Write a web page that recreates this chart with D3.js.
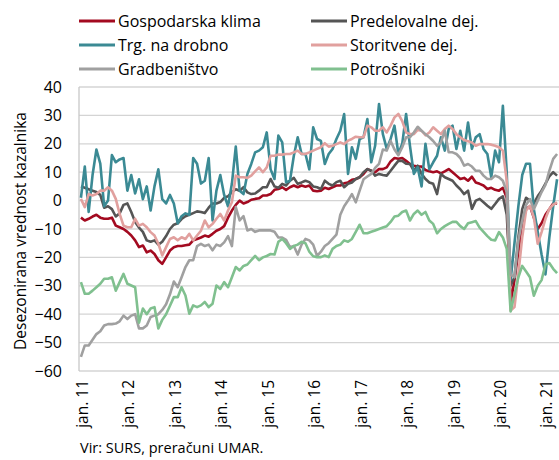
<!DOCTYPE html>
<html>
<head>
<meta charset="utf-8">
<script src="https://cdn.jsdelivr.net/npm/d3@7"></script>
<style>
  body { margin: 0; background: #fff; }
  svg text { font-family: "Open Sans", "Noto Sans", sans-serif; fill: #000; }
</style>
</head>
<body>
<div id="chart"></div>
<script>
// monthly data, jan 2011 .. apr 2021
var startYear = 2011;
var nMonths = 124;
var tickLabels = ["jan. 11", "jan. 12", "jan. 13", "jan. 14", "jan. 15", "jan. 16", "jan. 17", "jan. 18", "jan. 19", "jan. 20", "jan. 21"];
var yTicks = [40, 30, 20, 10, 0, -10, -20, -30, -40, -50, -60];

var gospodarska = [-6, -7, -6.4, -5.6, -5, -6, -6.4, -6.4, -6, -8.8, -9.4, -10, -11, -12.3, -14, -16.4, -15.8, -18.2, -17.6, -18.8, -21, -22.3, -20, -17.6, -16.4, -16, -16, -15.7, -15.5, -14, -13.5, -13, -12.3, -12.7, -11.7, -10.6, -10, -9, -6, -3.5, -1.5,
  0, -1, -0.5, 0.3, 0.6, 0.8, 1.8, 1.8, 2.3, 3.8, 4.1, 4.7, 3.8, 4.7, 5.3, 4.7, 5.3, 4.9, 5.3, 3.5, 3.3, 3.5, 4.5, 4.1, 4.7, 5.3, 5.3, 6.1, 6.4, 7.3, 7.6, 8.2, 9.4, 11.1, 10.5, 10, 11.1, 11.1, 11.7, 13.8, 15, 14.7,
  15, 14, 12.9, 12.3, 12, 12, 10.8, 10.3, 10, 10.3, 9.6, 10.3, 11.1, 10, 8.8, 7.6, 8, 7, 8.4, 6.4, 5.9, 5.3, 4.1, 4.5, 3.8, 3.5, 4.5, 1, -36, -28, -18, -8, -3, -2, -6, -10, -8, -5, -3, -1, -1];

var predelovalne = [5, 4.5, 4, 3.5, 3, 2, -2.5, -2, -3, -5.6, -4.5, -1.5, -1, -4, -7.5, -9.5, -11, -14, -14.5, -14, -15.5, -14.5, -12.5, -10, -8.5, -8, -6.5, -5.5, -5, -4.4, -3.8, -4, -4.4, -2.5, -1, -1, -0.5, 1, 1.5, 3, 4,
  3.5, 4.7, 2.9, 2.3, 2.5, 3.5, 4.7, 4.7, 7.6, 5, 4.5, 5.9, 5.3, 7, 8, 5.9, 6.4, 7, 6.5, 5, 4.7, 4.1, 7, 5.9, 5.3, 6.5, 7, 4.7, 5.9, 6.4, 7.6, 8.2, 10, 11.1, 10.5, 8.8, 9.4, 9, 8.8, 10.5, 12.3, 14,
  14, 13, 12.9, 10.5, 12.3, 9.4, 7.6, 6.4, 5.9, 2.3, 9.4, 8.2, 7.6, 7, 5.3, 4, 2.3, 3.5, -2.9, 0, 0.6, -0.6, -1.8, -2.9, -1.2, 0.6, 1.5, -5, -30, -27, -13, -3, 1, 0, -1, 1.5, 3.5, 6, 8.5, 10, 8.8];

var drobno = [1, 12, -4, 9, 18, 13, -2, 0, 16, 13.5, 14.5, 15, 3.5, 9, 2.5, 7.5, 0.5, 5, -3.5, 5, 11, 0.5, -1, 2, -1, -8, -5.5, -4.5, -5, 15, 13, 6, 7, 15, -7, 3.5, 9, 2, -2, 6, 19,
  3.5, 2.3, 9.4, 12.9, 17, 17.6, 18.8, 24, 11, 7.6, 22.9, 20.5, 6.4, 7, 15.8, 22.3, 16.4, 16.4, 11, 25.8, 21.7, 21, 12.9, 16.4, 18.2, 21.7, 24.6, 30.5, 9.4, 18.8, 14.7, 21.7, 22.3, 28.7, 13.5, 19.3, 34, 23.4, 18.2, 21.7, 26.4, 16.4,
  20, 30.5, 19.3, 9.4, 11.7, 5, 20, 11, 13.5, 15.8, 22.3, 17.6, 25.2, 26.4, 18.2, 24.6, 17.6, 27.5, 18.2, 22.3, 23.4, 18.2, 16.4, 8.2, 17.6, 13.5, 33.4, 10, -28, -15, -2, 9, 13, 13, -3, -11, -19, -26, -13, -2, 7.5];

var storitvene = [0.6, -2.3, 2.3, 1.8, 2.3, 3.5, 3.5, 4.7, 3.5, 0.6, -4.7, -8.8, -9.4, -9.4, -6.4, -8.8, -8.2, -9.4, -11.1, -12.3, -15.2, -19.3, -16.4, -13.5, -12.9, -14, -12.9, -13.5, -11.7, -14, -12.3, -10.6, -7, -9.4, -8.2, -6.4, -4.7, -7, -3.5, -0.6, 8.8,
  8.2, 8.2, 8, 8.8, 10.3, 11.7, 10, 11.7, 15.8, 15.8, 16.2, 16.2, 16.4, 16.4, 17, 17.6, 16.4, 16.4, 17, 17.6, 18.2, 18.8, 20.2, 19, 19.3, 19.9, 20.5, 19.9, 21.1, 21.7, 22.5, 22.3, 22.3, 26.4, 25.8, 24.6, 24.6, 25.8, 24, 26.4, 29.3, 30.5,
  28, 24, 23.4, 23.4, 24.9, 24.6, 23, 24, 25.8, 24.6, 23.4, 25.2, 26.4, 25.2, 23.4, 22.3, 21.3, 20.9, 20.5, 19.3, 19.9, 19.9, 19.9, 19.7, 19.3, 18.8, 17.6, 7, -38.7, -37.5, -25.8, -12.9, -3.5, -1.8, -5.9, -15.2, -11.1, -6.4, -2.9, -1.4, -0.6];

var gradbenistvo = [-55, -51, -51, -49, -47, -46, -44, -43.5, -43.5, -43.3, -42.5, -40.5, -41.7, -40.5, -40, -45, -45, -44, -41, -40.5, -40, -38.5, -36.5, -33, -28.5, -30.5, -27, -23.4, -21, -21, -16, -15.2, -16, -15.5, -17.5, -15.5, -16, -14.7, -12.5, -16, -2.3,
  -7, -5.5, -10.5, -10, -11, -10.5, -10.5, -10.5, -10.5, -11, -13, -13, -13.8, -16.4, -16, -19, -15.5, -13.5, -14, -15.5, -19.5, -18, -16, -15, -13.5, -12, -5, -2, 0, 2.3, -0.6, 3.5, 7.5, 8.5, 9.4, 11.5, 12.9, 18, 17.6, 21, 18, 16,
  18.8, 22.3, 22.3, 24, 26, 24.6, 23.4, 22.3, 21, 19.3, 20.5, 24.6, 17, 17, 16.4, 15, 12.3, 12.9, 12, 10.5, 10.5, 8.8, 7.6, 7.6, 8.8, 8.2, 7, 3, -26, -27, -14, -7, -1.5, 0.5, -3, 0, 3, 5.5, 10.5, 14.7, 16.4];

var potrosniki = [-28.7, -32.8, -32.8, -31.7, -30.5, -29.3, -27.5, -27.5, -27, -31.7, -28.7, -25.8, -29.3, -29.9, -30.5, -43, -38, -40, -38, -37.5, -45, -42, -40, -37, -34, -34, -30.5, -33.4, -39.8, -36.9, -37.5, -36.9, -35.7, -37.5, -36.3, -29.9, -31.1, -28.7, -30.5, -27, -23.4,
  -24.6, -23, -22.5, -21, -19.5, -21, -20, -19.5, -18.8, -19, -14.5, -13.5, -15, -17, -16, -15.5, -14.5, -15, -18, -19.6, -19.9, -19.9, -19.3, -19.9, -17, -16, -15.5, -14, -14.5, -13.5, -11, -8.5, -11.5, -11.5, -11, -10.5, -10, -9.5, -9, -7.5, -5.6, -5.3,
  -4, -3.5, -7, -4.7, -3.5, -5, -4, -7, -8.2, -11.5, -10, -9, -8.2, -7.5, -7.5, -9, -10, -8, -7.6, -7.2, -9.5, -11, -12.5, -13.8, -14, -11.1, -13, -17, -39, -33, -27, -23, -25, -27, -33.5, -30, -28, -22.5, -22, -24, -25.5];

var series = [
  { name: "Gospodarska klima", values: gospodarska, color: "#a30a20" },
  { name: "Predelovalne dej.", values: predelovalne, color: "#555555" },
  { name: "Trg. na drobno", values: drobno, color: "#3b8a94" },
  { name: "Storitvene dej.", values: storitvene, color: "#e1a09e" },
  { name: "Gradbeništvo", values: gradbenistvo, color: "#a0a0a0" },
  { name: "Potrošniki", values: potrosniki, color: "#80c08f" }
];

var width = 559, height = 460;
var plot = { left: 79, right: 559, top: 87, bottom: 371 };

var svg = d3.select("#chart").append("svg")
    .attr("width", width)
    .attr("height", height);

var months = d3.range(nMonths);
var x = d3.scalePoint()
    .domain(months)
    .range([plot.left, plot.right])
    .padding(0.5);

var y = d3.scaleLinear()
    .domain([-60, 40])
    .range([plot.bottom, plot.top]);

// gridlines
svg.append("g")
    .selectAll("line")
    .data(yTicks)
    .enter().append("line")
    .attr("x1", plot.left)
    .attr("x2", plot.right)
    .attr("y1", d => y(d))
    .attr("y2", d => y(d))
    .style("stroke", "#d4d4d4")
    .style("stroke-width", 1.3);

// left axis line
svg.append("line")
    .attr("x1", plot.left).attr("x2", plot.left)
    .attr("y1", plot.top).attr("y2", plot.bottom)
    .style("stroke", "#c8c8c8")
    .style("stroke-width", 1.3);

// y axis labels
var yAxis = d3.axisLeft(y).tickValues(yTicks).tickSize(0).tickPadding(0);
var gy = svg.append("g")
    .attr("transform", "translate(62,0)")
    .call(yAxis);
gy.select(".domain").remove();
gy.selectAll("text")
    .style("font-size", "16px")
    .style("font-family", '"Open Sans", sans-serif')
    .attr("fill", "#000");

// x axis labels, one every january
var labelMonths = tickLabels.map((t, i) => i * 12);
svg.append("g")
    .selectAll("text")
    .data(labelMonths)
    .enter().append("text")
    .attr("transform", d => "translate(" + (x(d) + 7) + "," + (plot.bottom + 9) + ") rotate(-90)")
    .attr("text-anchor", "end")
    .style("font-size", "15.5px")
    .text((d, i) => tickLabels[i]);

// y title
svg.append("text")
    .attr("transform", "translate(26," + ((plot.top + plot.bottom) / 2 + 2) + ") rotate(-90)")
    .attr("text-anchor", "middle")
    .style("font-size", "15.5px")
    .text("Desezonirana vrednost kazalnika");

// lines
var line = d3.line()
    .x((d, i) => x(i))
    .y(d => y(d));

svg.append("g")
    .selectAll("path")
    .data(series)
    .enter().append("path")
    .attr("d", d => line(d.values))
    .style("fill", "none")
    .style("stroke", d => d.color)
    .style("stroke-width", 2.6)
    .style("stroke-linejoin", "round");

// legend, two columns
var legend = svg.append("g")
    .selectAll("g")
    .data(series)
    .enter().append("g")
    .attr("transform", (d, i) => "translate(" + (i % 2 === 0 ? 79 : 311) + "," + (21 + Math.floor(i / 2) * 24) + ")");

legend.append("line")
    .attr("x1", 0).attr("x2", 36)
    .attr("y1", 0).attr("y2", 0)
    .style("stroke", d => d.color)
    .style("stroke-width", 2.8);

legend.append("text")
    .attr("x", 39)
    .attr("y", 6)
    .style("font-size", "16px")
    .text(d => d.name);

// source
svg.append("text")
    .attr("x", 80)
    .attr("y", 453)
    .style("font-size", "14.5px")
    .text("Vir: SURS, preračuni UMAR.");
</script>
</body>
</html>
